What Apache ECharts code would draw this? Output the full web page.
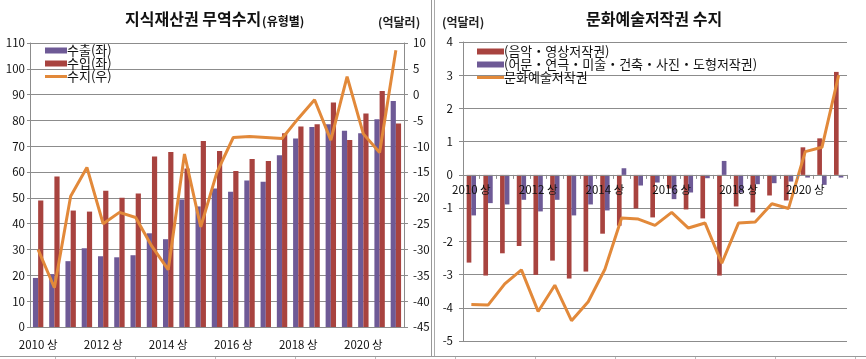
<!DOCTYPE html>
<html>
<head>
<meta charset="utf-8">
<script src="https://cdn.jsdelivr.net/npm/echarts@6/dist/echarts.min.js"></script>
<style>html,body{margin:0;padding:0;background:#fff;}#c{width:866px;height:359px;}</style>
</head>
<body>
<div id="c"></div>
<script>
const categories = ['2010 상','2010 하','2011 상','2011 하','2012 상','2012 하','2013 상','2013 하','2014 상','2014 하','2015 상','2015 하','2016 상','2016 하','2017 상','2017 하','2018 상','2018 하','2019 상','2019 하','2020 상','2020 하','2021 상'];
const exportVals = [19, 20.5, 25.5, 30.5, 27.4, 27, 27.8, 36.3, 34, 49.4, 46.7, 53.6, 52.4, 56.7, 56.3, 66.5, 73, 77.5, 78.5, 76, 75, 80.5, 87.5];
const importVals = [49, 58.3, 45.1, 44.7, 52.8, 50.1, 51.7, 66, 67.8, 61.4, 72, 68.2, 60.4, 65.1, 64.3, 75, 77.7, 78.5, 87, 72.4, 82.7, 91.4, 78.8];
const balanceVals = [-30, -37.4, -19.7, -14.1, -25, -22.8, -23.8, -29.4, -33.9, -11.5, -25.6, -15, -8.3, -8.1, -8.3, -8.5, -4.6, -1, -8.8, 3.5, -7.6, -11.2, 8.6];
const musicVideoVals = [-2.64, -3.03, -2.36, -2.14, -3.01, -2.58, -3.12, -2.91, -1.77, -1.53, -1.01, -1.28, -0.41, -1.04, -1.31, -3.03, -0.95, -1.13, -0.62, -0.77, 0.83, 1.1, 3.1];
const otherArtVals = [-1.22, -0.85, -0.89, -0.75, -1.1, -0.75, -1.22, -0.89, -1.07, 0.2, -0.32, -0.23, -0.73, -0.53, -0.1, 0.42, -0.53, -0.28, -0.25, -0.2, -0.08, -0.3, -0.08];
const cultureTotalVals = [-3.9, -3.92, -3.28, -2.86, -4.11, -3.32, -4.39, -3.82, -2.84, -1.3, -1.33, -1.52, -1.13, -1.6, -1.45, -2.66, -1.45, -1.42, -0.87, -1.01, 0.7, 0.83, 3.0];

const FONT = '"Noto Sans CJK KR", "Noto Sans", sans-serif';
const PURPLE = '#6E5A96', RED = '#A8433F', ORANGE = '#E2893A', GRID = '#8c8c8c';

const chart = echarts.init(document.getElementById('c'), null, {renderer: 'canvas'});

const bottomTicksX = [55, 135, 215, 295, 375, 455, 535, 615, 695, 775, 855];
const graphics = [
  {type:'line', shape:{x1:431.5,y1:0,x2:431.5,y2:357}, style:{stroke:'#999',lineWidth:1}, silent:true},
  {type:'line', shape:{x1:434.5,y1:0,x2:434.5,y2:357}, style:{stroke:'#aaa',lineWidth:1}, silent:true},
  {type:'line', shape:{x1:0,y1:356.5,x2:866,y2:356.5}, style:{stroke:'#999',lineWidth:1}, silent:true},
  {type:'text', left:378, top:16, style:{text:'(억달러)', font:'bold 12px ' + FONT, fill:'#222'}},
  {type:'text', left:442, top:16, style:{text:'(억달러)', font:'bold 12px ' + FONT, fill:'#222'}}
];
bottomTicksX.forEach(x => graphics.push({type:'line', shape:{x1:x+0.5,y1:357,x2:x+0.5,y2:359}, style:{stroke:'#bbb',lineWidth:1}, silent:true}));

const axisLabelStyle = {color:'#111', fontSize:11.5, fontFamily:FONT};
const lineIconL = 'path://M0,0L22,0L22,3L0,3Z';
const lineIconR = 'path://M0,0L27,0L27,3L0,3Z';

const rTop = 42, rBottom = 341;
const zeroOffset = -(rBottom - (rTop + (4 / 9) * (rBottom - rTop)));

chart.setOption({
  animation:false,
  textStyle:{fontFamily:FONT},
  title:[
    {text:'{a|지식재산권 무역수지}{b|(유형별)}', left:120, top:6,
     textStyle:{rich:{a:{fontSize:16, fontWeight:'bold', color:'#111', fontFamily:FONT},
                       b:{fontSize:12, fontWeight:'bold', color:'#111', fontFamily:FONT, padding:[4,0,0,1]}}}},
    {text:'문화예술저작권 수지', left:581, top:6,
     textStyle:{fontSize:16, fontWeight:'bold', color:'#111', fontFamily:FONT}}
  ],
  graphic:graphics,
  legend:[
    {orient:'vertical', left:40, top:39, itemWidth:22, itemHeight:6, itemGap:0, symbolKeepAspect:true,
     textStyle:{fontSize:13, color:'#111', lineHeight:12.5, fontFamily:FONT, padding:[0,0,0,-5]},
     data:[{name:'수출(좌)', icon:'rect'},{name:'수입(좌)', icon:'rect'},{name:'수지(우)', icon:lineIconL}]},
    {orient:'vertical', left:472, top:40, itemWidth:27, itemHeight:6, itemGap:0, symbolKeepAspect:true,
     textStyle:{fontSize:13, color:'#111', lineHeight:12.5, fontFamily:FONT, padding:[0,0,0,-5]},
     data:[{name:'(음악・영상저작권)', icon:'rect'},{name:'(어문・연극・미술・건축・사진・도형저작권)', icon:'rect'},{name:'문화예술저작권', icon:lineIconR}]}
  ],
  grid:[
    {left:30, right:462, top:43, bottom:32},
    {left:463, right:19, top:rTop, bottom:359 - rBottom}
  ],
  xAxis:[
    {type:'category', gridIndex:0, data:categories, boundaryGap:true,
     axisLine:{lineStyle:{color:GRID}}, axisTick:{show:false},
     axisLabel:Object.assign({interval:3, margin:12}, axisLabelStyle)},
    {type:'category', gridIndex:1, data:categories, boundaryGap:true, offset:zeroOffset, z:10,
     axisLine:{onZero:false, lineStyle:{color:GRID}}, axisTick:{show:true, interval:0, length:4, lineStyle:{color:GRID}},
     axisLabel:Object.assign({interval:3, margin:9}, axisLabelStyle)}
  ],
  yAxis:[
    {type:'value', gridIndex:0, min:0, max:110, interval:10, position:'left',
     axisLine:{show:true, lineStyle:{color:GRID}}, axisTick:{show:true, length:3, lineStyle:{color:GRID}},
     splitLine:{lineStyle:{color:GRID}}, axisLabel:Object.assign({margin:5}, axisLabelStyle)},
    {type:'value', gridIndex:0, min:-45, max:10, interval:5, position:'right',
     axisLine:{show:true, lineStyle:{color:GRID}}, axisTick:{show:true, length:4, lineStyle:{color:GRID}},
     splitLine:{show:false}, axisLabel:Object.assign({margin:9}, axisLabelStyle)},
    {type:'value', gridIndex:1, min:-5, max:4, interval:1, position:'left',
     axisLine:{show:true, lineStyle:{color:GRID}}, axisTick:{show:true, length:4, lineStyle:{color:GRID}},
     splitLine:{lineStyle:{color:GRID}}, axisLabel:Object.assign({margin:10}, axisLabelStyle)}
  ],
  series:[
    {name:'수출(좌)', type:'bar', xAxisIndex:0, yAxisIndex:0, data:exportVals,
     itemStyle:{color:PURPLE}, barGap:'0%', barCategoryGap:'36%'},
    {name:'수입(좌)', type:'bar', xAxisIndex:0, yAxisIndex:0, data:importVals,
     itemStyle:{color:RED}, barGap:'0%', barCategoryGap:'36%'},
    {name:'수지(우)', type:'line', xAxisIndex:0, yAxisIndex:1, data:balanceVals,
     symbol:'none', lineStyle:{color:ORANGE, width:3}, itemStyle:{color:ORANGE}, z:5},
    {name:'(음악・영상저작권)', type:'bar', xAxisIndex:1, yAxisIndex:2, data:musicVideoVals,
     itemStyle:{color:RED}, barGap:'0%', barCategoryGap:'44%'},
    {name:'(어문・연극・미술・건축・사진・도형저작권)', type:'bar', xAxisIndex:1, yAxisIndex:2, data:otherArtVals,
     itemStyle:{color:PURPLE}, barGap:'0%', barCategoryGap:'44%'},
    {name:'문화예술저작권', type:'line', xAxisIndex:1, yAxisIndex:2, data:cultureTotalVals,
     symbol:'none', lineStyle:{color:ORANGE, width:3}, itemStyle:{color:ORANGE}, z:5}
  ]
});
</script>
</body>
</html>
